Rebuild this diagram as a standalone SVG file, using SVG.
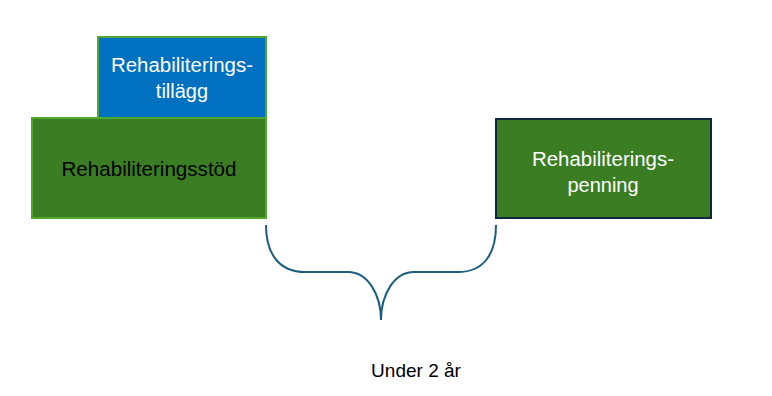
<svg xmlns="http://www.w3.org/2000/svg" width="772" height="396" viewBox="0 0 772 396">
<style>
text{font-family:"Liberation Sans",Arial,sans-serif;font-size:20px;text-anchor:middle}
.w{fill:#ffffff}
.k{fill:#000000}
.brace{fill:none;stroke:#1B5E7E;stroke-width:2}
</style>
<rect width="772" height="396" fill="#ffffff"/>
<g id="tillagg">
<rect x="98" y="37" width="168" height="81" fill="#0070C0" stroke="#4EA72E" stroke-width="2"/>
<text class="w" x="182" y="72" textLength="142" lengthAdjust="spacingAndGlyphs">Rehabiliterings-</text>
<text class="w" x="182" y="98">tillägg</text>
</g>
<g id="stod">
<rect x="32" y="118" width="234" height="100" fill="#3A7D22" stroke="#4EA72E" stroke-width="2"/>
<text class="k" x="149" y="176" textLength="175" lengthAdjust="spacingAndGlyphs">Rehabiliteringsstöd</text>
</g>
<g id="penning">
<rect x="496" y="119" width="215" height="99" fill="#3A7D22" stroke="#0E2841" stroke-width="2"/>
<text class="w" x="603" y="166" textLength="142" lengthAdjust="spacingAndGlyphs">Rehabiliterings-</text>
<text class="w" x="603" y="192">penning</text>
</g>
<g id="connectors">
<path class="brace" d="M266,225 C266,255 280,272 305,272 L348,272 C368,272 381,295 381,320 C381,295 394,272 414,272 L458,272 C483,272 496,255 496,225"/>
</g>
<g id="label">
<text class="k" x="416" y="377" style="font-size:19px">Under 2 år</text>
</g>
</svg>
